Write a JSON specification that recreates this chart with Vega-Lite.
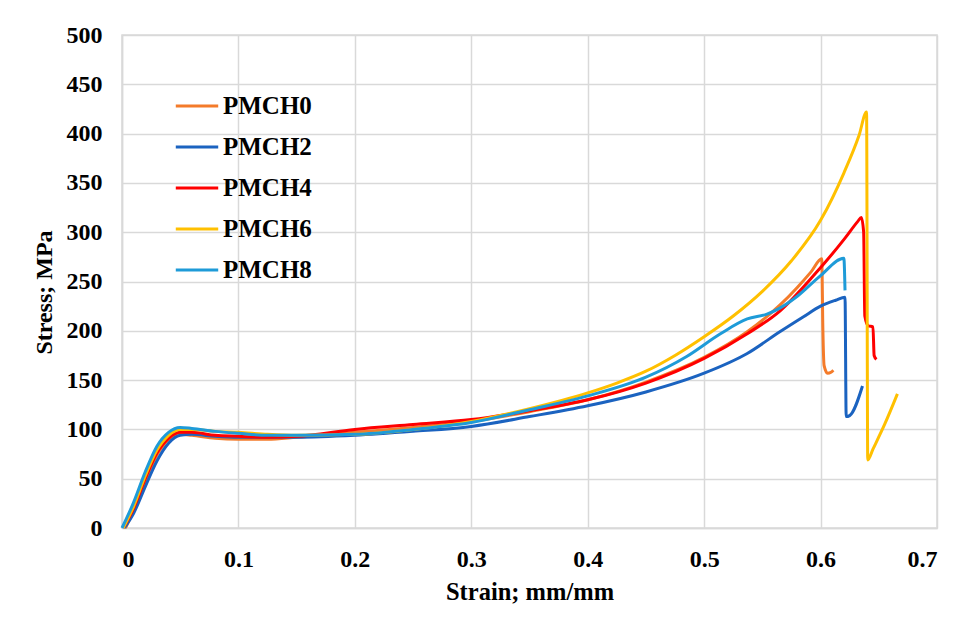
{
  "$schema": "https://vega.github.io/schema/vega-lite/v6.json",
  "width": 815,
  "height": 493,
  "autosize": "none",
  "padding": {"left": 122, "top": 35, "right": 26, "bottom": 98},
  "background": "white",
  "config": {
    "view": {"stroke": "#d9d9d9", "strokeWidth": 1.5},
    "font": "Liberation Serif"
  },
  "data": {"values": [
    {"s":"PMCH0","i":1,"x":0.003,"y":0},{"s":"PMCH0","i":2,"x":0.01,"y":18},{"s":"PMCH0","i":3,"x":0.02,"y":48},{"s":"PMCH0","i":4,"x":0.03,"y":74},{"s":"PMCH0","i":5,"x":0.04,"y":90},{"s":"PMCH0","i":6,"x":0.05,"y":95},{"s":"PMCH0","i":7,"x":0.06,"y":94},{"s":"PMCH0","i":8,"x":0.08,"y":91},{"s":"PMCH0","i":9,"x":0.1,"y":90},{"s":"PMCH0","i":10,"x":0.125,"y":90},{"s":"PMCH0","i":11,"x":0.15,"y":92},{"s":"PMCH0","i":12,"x":0.2,"y":97},{"s":"PMCH0","i":13,"x":0.25,"y":102},{"s":"PMCH0","i":14,"x":0.3,"y":108},{"s":"PMCH0","i":15,"x":0.35,"y":118},{"s":"PMCH0","i":16,"x":0.4,"y":130},{"s":"PMCH0","i":17,"x":0.45,"y":148},{"s":"PMCH0","i":18,"x":0.5,"y":173},{"s":"PMCH0","i":19,"x":0.537,"y":199},{"s":"PMCH0","i":20,"x":0.565,"y":226},{"s":"PMCH0","i":21,"x":0.58,"y":244},{"s":"PMCH0","i":22,"x":0.592,"y":260},{"s":"PMCH0","i":23,"x":0.601,"y":273},{"s":"PMCH0","i":24,"x":0.602,"y":200},{"s":"PMCH0","i":25,"x":0.603,"y":165},{"s":"PMCH0","i":26,"x":0.606,"y":157},{"s":"PMCH0","i":27,"x":0.609,"y":158},{"s":"PMCH0","i":28,"x":0.611,"y":160},

    {"s":"PMCH2","i":1,"x":0.002,"y":0},{"s":"PMCH2","i":2,"x":0.01,"y":15},{"s":"PMCH2","i":3,"x":0.02,"y":42},{"s":"PMCH2","i":4,"x":0.03,"y":68},{"s":"PMCH2","i":5,"x":0.04,"y":86},{"s":"PMCH2","i":6,"x":0.05,"y":94},{"s":"PMCH2","i":7,"x":0.06,"y":95},{"s":"PMCH2","i":8,"x":0.08,"y":93},{"s":"PMCH2","i":9,"x":0.1,"y":92},{"s":"PMCH2","i":10,"x":0.15,"y":92},{"s":"PMCH2","i":11,"x":0.2,"y":94},{"s":"PMCH2","i":12,"x":0.25,"y":98},{"s":"PMCH2","i":13,"x":0.3,"y":103},{"s":"PMCH2","i":14,"x":0.35,"y":113},{"s":"PMCH2","i":15,"x":0.4,"y":124},{"s":"PMCH2","i":16,"x":0.45,"y":138},{"s":"PMCH2","i":17,"x":0.5,"y":157},{"s":"PMCH2","i":18,"x":0.537,"y":177},{"s":"PMCH2","i":19,"x":0.565,"y":199},{"s":"PMCH2","i":20,"x":0.585,"y":214},{"s":"PMCH2","i":21,"x":0.6,"y":225},{"s":"PMCH2","i":22,"x":0.613,"y":231},{"s":"PMCH2","i":23,"x":0.621,"y":234},{"s":"PMCH2","i":24,"x":0.622,"y":113},{"s":"PMCH2","i":25,"x":0.625,"y":114},{"s":"PMCH2","i":26,"x":0.636,"y":144},

    {"s":"PMCH4","i":1,"x":0.001,"y":0},{"s":"PMCH4","i":2,"x":0.01,"y":20},{"s":"PMCH4","i":3,"x":0.02,"y":50},{"s":"PMCH4","i":4,"x":0.03,"y":76},{"s":"PMCH4","i":5,"x":0.04,"y":91},{"s":"PMCH4","i":6,"x":0.05,"y":97},{"s":"PMCH4","i":7,"x":0.06,"y":97},{"s":"PMCH4","i":8,"x":0.08,"y":94},{"s":"PMCH4","i":9,"x":0.1,"y":93},{"s":"PMCH4","i":10,"x":0.125,"y":92},{"s":"PMCH4","i":11,"x":0.15,"y":93},{"s":"PMCH4","i":12,"x":0.2,"y":100},{"s":"PMCH4","i":13,"x":0.25,"y":105},{"s":"PMCH4","i":14,"x":0.3,"y":110},{"s":"PMCH4","i":15,"x":0.35,"y":119},{"s":"PMCH4","i":16,"x":0.4,"y":130},{"s":"PMCH4","i":17,"x":0.45,"y":147},{"s":"PMCH4","i":18,"x":0.5,"y":172},{"s":"PMCH4","i":19,"x":0.537,"y":197},{"s":"PMCH4","i":20,"x":0.565,"y":220},{"s":"PMCH4","i":21,"x":0.594,"y":256},{"s":"PMCH4","i":22,"x":0.621,"y":294},{"s":"PMCH4","i":23,"x":0.632,"y":311},{"s":"PMCH4","i":24,"x":0.635,"y":315},{"s":"PMCH4","i":25,"x":0.637,"y":300},{"s":"PMCH4","i":26,"x":0.638,"y":215},{"s":"PMCH4","i":27,"x":0.641,"y":205},{"s":"PMCH4","i":28,"x":0.645,"y":204},{"s":"PMCH4","i":29,"x":0.646,"y":175},{"s":"PMCH4","i":30,"x":0.648,"y":171},

    {"s":"PMCH6","i":1,"x":0.001,"y":0},{"s":"PMCH6","i":2,"x":0.01,"y":22},{"s":"PMCH6","i":3,"x":0.02,"y":53},{"s":"PMCH6","i":4,"x":0.03,"y":79},{"s":"PMCH6","i":5,"x":0.04,"y":94},{"s":"PMCH6","i":6,"x":0.05,"y":100},{"s":"PMCH6","i":7,"x":0.06,"y":100},{"s":"PMCH6","i":8,"x":0.08,"y":98},{"s":"PMCH6","i":9,"x":0.1,"y":97},{"s":"PMCH6","i":10,"x":0.125,"y":95},{"s":"PMCH6","i":11,"x":0.15,"y":94},{"s":"PMCH6","i":12,"x":0.2,"y":95},{"s":"PMCH6","i":13,"x":0.25,"y":100},{"s":"PMCH6","i":14,"x":0.3,"y":108},{"s":"PMCH6","i":15,"x":0.35,"y":121},{"s":"PMCH6","i":16,"x":0.4,"y":137},{"s":"PMCH6","i":17,"x":0.425,"y":147},{"s":"PMCH6","i":18,"x":0.45,"y":159},{"s":"PMCH6","i":19,"x":0.475,"y":175},{"s":"PMCH6","i":20,"x":0.5,"y":194},{"s":"PMCH6","i":21,"x":0.525,"y":215},{"s":"PMCH6","i":22,"x":0.55,"y":240},{"s":"PMCH6","i":23,"x":0.575,"y":271},{"s":"PMCH6","i":24,"x":0.6,"y":312},{"s":"PMCH6","i":25,"x":0.62,"y":360},{"s":"PMCH6","i":26,"x":0.633,"y":398},{"s":"PMCH6","i":27,"x":0.6395,"y":422},{"s":"PMCH6","i":28,"x":0.6405,"y":69},{"s":"PMCH6","i":29,"x":0.645,"y":80},{"s":"PMCH6","i":30,"x":0.655,"y":105},{"s":"PMCH6","i":31,"x":0.666,"y":136},

    {"s":"PMCH8","i":1,"x":0,"y":0},{"s":"PMCH8","i":2,"x":0.01,"y":26},{"s":"PMCH8","i":3,"x":0.02,"y":57},{"s":"PMCH8","i":4,"x":0.03,"y":83},{"s":"PMCH8","i":5,"x":0.04,"y":97},{"s":"PMCH8","i":6,"x":0.05,"y":102},{"s":"PMCH8","i":7,"x":0.06,"y":101},{"s":"PMCH8","i":8,"x":0.08,"y":98},{"s":"PMCH8","i":9,"x":0.1,"y":96},{"s":"PMCH8","i":10,"x":0.125,"y":94},{"s":"PMCH8","i":11,"x":0.15,"y":94},{"s":"PMCH8","i":12,"x":0.2,"y":95},{"s":"PMCH8","i":13,"x":0.25,"y":100},{"s":"PMCH8","i":14,"x":0.3,"y":107},{"s":"PMCH8","i":15,"x":0.35,"y":120},{"s":"PMCH8","i":16,"x":0.4,"y":134},{"s":"PMCH8","i":17,"x":0.45,"y":153},{"s":"PMCH8","i":18,"x":0.485,"y":174},{"s":"PMCH8","i":19,"x":0.514,"y":197},{"s":"PMCH8","i":20,"x":0.537,"y":212},{"s":"PMCH8","i":21,"x":0.554,"y":217},{"s":"PMCH8","i":22,"x":0.565,"y":223},{"s":"PMCH8","i":23,"x":0.58,"y":235},{"s":"PMCH8","i":24,"x":0.6,"y":256},{"s":"PMCH8","i":25,"x":0.62,"y":273.5},{"s":"PMCH8","i":26,"x":0.621,"y":241}
  ]},
  "mark": {"type": "line", "strokeWidth": 3, "interpolate": "monotone"},
  "encoding": {
    "x": {
      "field": "x", "type": "quantitative",
      "scale": {"domain": [0, 0.7], "nice": false, "zero": true},
      "axis": {
        "title": "Strain; mm/mm",
        "values": [0, 0.1, 0.2, 0.3, 0.4, 0.5, 0.6, 0.7],
        "labelExpr": "datum.value == 0 ? '0' : format(datum.value, '.1f')",
        "labelFont": "Liberation Serif", "labelFontSize": 24, "labelFontWeight": "bold", "labelColor": "#000",
        "labelPadding": 19,
        "titleFont": "Liberation Serif", "titleFontSize": 24.5, "titleFontWeight": "bold", "titleColor": "#000",
        "titlePadding": 9,
        "ticks": false, "domainColor": "#d9d9d9", "domainWidth": 1.5,
        "grid": true, "gridColor": "#d9d9d9", "gridWidth": 1.5
      }
    },
    "y": {
      "field": "y", "type": "quantitative",
      "scale": {"domain": [0, 500], "nice": false},
      "axis": {
        "title": "Stress; MPa",
        "values": [0, 50, 100, 150, 200, 250, 300, 350, 400, 450, 500],
        "labelFont": "Liberation Serif", "labelFontSize": 24, "labelFontWeight": "bold", "labelColor": "#000",
        "labelPadding": 20,
        "titleFont": "Liberation Serif", "titleFontSize": 24, "titleFontWeight": "bold", "titleColor": "#000",
        "titlePadding": 10,
        "titleY": 257,
        "ticks": false, "domainColor": "#d9d9d9", "domainWidth": 1.5,
        "grid": true, "gridColor": "#d9d9d9", "gridWidth": 1.5
      }
    },
    "color": {
      "field": "s", "type": "nominal",
      "scale": {
        "domain": ["PMCH0", "PMCH2", "PMCH4", "PMCH6", "PMCH8"],
        "range": ["#F47B2A", "#1B63C0", "#FF0000", "#FFC000", "#1E9BD8"]
      },
      "legend": {
        "title": null,
        "orient": "none",
        "legendX": 52,
        "legendY": 48,
        "symbolType": "stroke",
        "symbolSize": 1800,
        "symbolStrokeWidth": 3,
        "rowPadding": 5,
        "padding": 0,
        "labelOffset": 3,
        "labelFont": "Liberation Serif", "labelFontSize": 25, "labelFontWeight": "bold", "labelColor": "#000"
      }
    },
    "order": {"field": "i", "type": "quantitative"}
  }
}
